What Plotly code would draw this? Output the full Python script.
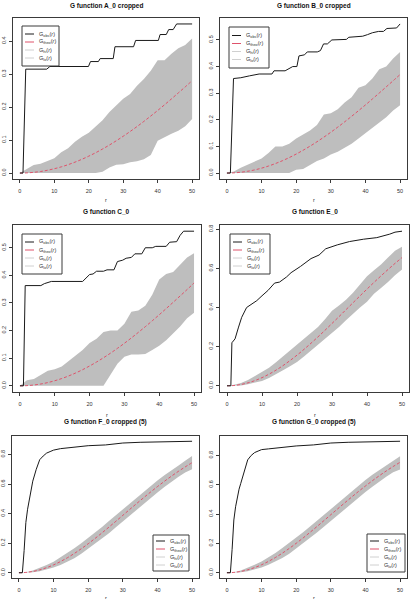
import plotly.graph_objects as go

W, H = 414, 599

# shared r grid for theoretical curve and simulation envelope
r_grid = [0, 2, 4, 6, 8, 10, 12, 14, 16, 18, 20, 22, 24, 26, 28, 30, 32, 34, 36, 38, 40, 42, 44, 46, 48, 50]

# ---------------- Panel A ----------------
A_obs_r = [0, 0.9, 1.7, 7.8, 8.7, 19.9, 20.5, 22.8, 23.3, 27.1, 27.6, 33.0, 33.6, 40.2, 40.7, 42.5, 43.2, 44.5, 45.5, 50]
A_obs = [0, 0, 0.315, 0.315, 0.323, 0.323, 0.338, 0.338, 0.347, 0.347, 0.383, 0.383, 0.402, 0.402, 0.42, 0.42, 0.435, 0.435, 0.452, 0.452]
A_theo = [0, 0.0005, 0.0021, 0.0047, 0.0084, 0.0131, 0.0187, 0.0254, 0.0331, 0.0417, 0.0512, 0.0616, 0.0729, 0.085, 0.0979,
          0.1116, 0.1259, 0.1409, 0.1566, 0.1729, 0.1897, 0.207, 0.2248, 0.243, 0.2612, 0.28]
A_hi = [0, 0.012, 0.024, 0.028, 0.036, 0.045, 0.063, 0.075, 0.095, 0.11, 0.122, 0.14, 0.16, 0.185, 0.205, 0.225, 0.24, 0.265,
        0.285, 0.31, 0.342, 0.342, 0.362, 0.378, 0.388, 0.408]
A_lo = [0, 0, 0, 0, 0, 0, 0, 0, 0, 0, 0, 0, 0.004, 0.017, 0.025, 0.027, 0.033, 0.036, 0.042, 0.055, 0.098, 0.109, 0.119, 0.128,
        0.142, 0.164]

# ---------------- Panel B ----------------
B_obs_r = [0, 1.0, 1.9, 4, 6.5, 9.3, 13.0, 13.6, 16.8, 18, 19, 20.2, 20.8, 22.4, 23.2, 26.1, 27, 27.9, 29.0, 30.3, 34.5, 35.2,
           39.2, 40.6, 42, 43.8, 45.2, 46.2, 49, 50]
B_obs = [0, 0, 0.355, 0.358, 0.365, 0.372, 0.372, 0.384, 0.384, 0.394, 0.40, 0.40, 0.44, 0.444, 0.455, 0.455, 0.46, 0.485, 0.485,
         0.50, 0.502, 0.51, 0.514, 0.52, 0.527, 0.532, 0.532, 0.543, 0.545, 0.56]
B_theo = [0, 0.0007, 0.003, 0.0066, 0.0118, 0.0183, 0.0263, 0.0356, 0.0462, 0.0581, 0.0713, 0.0856, 0.101, 0.1174, 0.1349,
          0.1532, 0.1724, 0.1924, 0.213, 0.2342, 0.2559, 0.2782, 0.3008, 0.3237, 0.3467, 0.37]
B_hi = [0, 0.006, 0.02, 0.032, 0.042, 0.055, 0.075, 0.1, 0.1, 0.11, 0.13, 0.145, 0.16, 0.18, 0.22, 0.225, 0.24, 0.265, 0.285,
        0.32, 0.33, 0.355, 0.39, 0.4, 0.43, 0.455]
B_lo = [0, 0, 0, 0, 0, 0, 0, 0, 0, 0, 0.012, 0.015, 0.03, 0.045, 0.055, 0.07, 0.08, 0.095, 0.11, 0.13, 0.15, 0.17, 0.19, 0.21,
        0.235, 0.255]

# ---------------- Panel C ----------------
C_obs_r = [0, 1.0, 1.5, 6, 7, 9, 18, 19, 20, 21, 22, 24, 25, 27, 28, 29.5, 30.5, 32, 33, 35, 36, 38, 39, 42, 43, 45, 46, 47, 50]
C_obs = [0, 0, 0.363, 0.363, 0.37, 0.378, 0.378, 0.39, 0.403, 0.405, 0.415, 0.415, 0.42, 0.42, 0.45, 0.455, 0.462, 0.465, 0.478,
         0.478, 0.5, 0.5, 0.505, 0.505, 0.52, 0.522, 0.545, 0.56, 0.56]
C_theo = [0, 0.0007, 0.003, 0.0066, 0.0118, 0.0184, 0.0264, 0.0358, 0.0465, 0.0585, 0.0718, 0.0862, 0.1017, 0.1182, 0.1357,
          0.1541, 0.1734, 0.1935, 0.2142, 0.2355, 0.2573, 0.2797, 0.3024, 0.3254, 0.3486, 0.3725]
C_hi = [0, 0.02, 0.025, 0.04, 0.055, 0.06, 0.07, 0.09, 0.11, 0.13, 0.155, 0.17, 0.195, 0.2, 0.2, 0.225, 0.268, 0.273, 0.29,
        0.33, 0.385, 0.405, 0.412, 0.44, 0.465, 0.48]
C_lo = [0, 0, 0, 0, 0, 0, 0, 0, 0, 0, 0, 0, 0, 0.04, 0.08, 0.105, 0.113, 0.113, 0.115, 0.13, 0.145, 0.165, 0.19, 0.215, 0.245, 0.265]

# ---------------- Panel E ----------------
E_obs_r = [0, 1.1, 1.4, 2.3, 3.3, 4.2, 5.6, 7, 8.5, 10, 11.7, 13.6, 15, 17, 18.3, 21, 24, 26.3, 28.2, 31.5, 35, 39, 42.8, 46.5,
           48, 50]
E_obs = [0, 0, 0.22, 0.24, 0.3, 0.35, 0.40, 0.418, 0.435, 0.46, 0.487, 0.525, 0.53, 0.556, 0.578, 0.61, 0.65, 0.668, 0.70, 0.72,
         0.737, 0.749, 0.757, 0.775, 0.785, 0.79]
E_theo = [0, 0.0017, 0.0068, 0.0152, 0.0269, 0.0417, 0.0595, 0.0801, 0.1033, 0.1289, 0.1567, 0.1863, 0.2176, 0.2502, 0.2839,
          0.3185, 0.3535, 0.3889, 0.4243, 0.4594, 0.4942, 0.5283, 0.5616, 0.594, 0.6253, 0.6553]
E_hi = [0, 0.005, 0.015, 0.03, 0.05, 0.072, 0.092, 0.12, 0.15, 0.18, 0.21, 0.24, 0.27, 0.3, 0.34, 0.384, 0.41, 0.44, 0.475,
        0.515, 0.56, 0.59, 0.62, 0.655, 0.69, 0.711]
E_lo = [0, 0, 0.002, 0.008, 0.015, 0.025, 0.04, 0.058, 0.08, 0.1, 0.122, 0.15, 0.18, 0.21, 0.24, 0.272, 0.3, 0.335, 0.37,
        0.4, 0.43, 0.47, 0.5, 0.53, 0.565, 0.594]

# ---------------- Panel F ----------------
F_obs_r = [0, 1, 1.5, 2, 2.5, 3, 3.5, 4, 5, 6, 7, 8, 9, 10, 12, 14, 16, 20, 25, 30, 35, 40, 45, 50]
F_obs = [0, 0, 0.15, 0.34, 0.43, 0.5, 0.56, 0.62, 0.7, 0.765, 0.79, 0.81, 0.82, 0.83, 0.84, 0.845, 0.85, 0.86, 0.865, 0.878,
         0.883, 0.886, 0.888, 0.89]
F_theo = [0, 0.0022, 0.0087, 0.0195, 0.0344, 0.0532, 0.0757, 0.1016, 0.1306, 0.1623, 0.1964, 0.2325, 0.2701, 0.309, 0.3485,
          0.3885, 0.4287, 0.4684, 0.5076, 0.5458, 0.583, 0.6187, 0.653, 0.6855, 0.7162, 0.745]
F_hi = [0, 0.004, 0.016, 0.032, 0.052, 0.074, 0.103, 0.133, 0.165, 0.2, 0.235, 0.272, 0.31, 0.35, 0.39, 0.43, 0.47, 0.51,
        0.55, 0.59, 0.625, 0.66, 0.695, 0.725, 0.758, 0.79]
F_lo = [0, 0, 0.004, 0.01, 0.02, 0.035, 0.053, 0.073, 0.098, 0.128, 0.162, 0.197, 0.232, 0.268, 0.308, 0.348, 0.388, 0.428,
        0.467, 0.505, 0.543, 0.58, 0.615, 0.648, 0.678, 0.7]

# ---------------- Panel G ----------------
G_obs_r = [0, 1, 1.5, 2, 2.5, 3, 3.5, 4, 5, 6, 7, 8, 9, 10, 12, 14, 16, 20, 25, 30, 35, 40, 45, 50]
G_obs = [0, 0, 0.16, 0.36, 0.45, 0.52, 0.57, 0.61, 0.70, 0.77, 0.80, 0.82, 0.83, 0.84, 0.845, 0.85, 0.855, 0.865, 0.872, 0.885,
         0.89, 0.893, 0.895, 0.897]
G_theo = [0, 0.0022, 0.0089, 0.02, 0.0352, 0.0545, 0.0775, 0.104, 0.1336, 0.1659, 0.2007, 0.2374, 0.2757, 0.3152, 0.3553,
          0.3959, 0.4364, 0.4766, 0.516, 0.5545, 0.5918, 0.6276, 0.6618, 0.6942, 0.7248, 0.7534]
G_hi = [0, 0.004, 0.016, 0.033, 0.054, 0.077, 0.105, 0.135, 0.168, 0.203, 0.24, 0.277, 0.315, 0.355, 0.395, 0.435, 0.475,
        0.515, 0.555, 0.595, 0.632, 0.668, 0.7, 0.732, 0.765, 0.795]
G_lo = [0, 0, 0.004, 0.01, 0.021, 0.036, 0.054, 0.075, 0.1, 0.13, 0.165, 0.2, 0.236, 0.274, 0.314, 0.354, 0.394, 0.434, 0.473,
        0.512, 0.55, 0.587, 0.622, 0.655, 0.685, 0.705]

titles = ["G function A_0 cropped", "G function B_0 cropped", "G function C_0",
          "G function E_0", "G function F_0 cropped (5)", "G function G_0 cropped (5)"]
x_ticks = [0, 10, 20, 30, 40, 50]
legend_labels = ["G<sub>obs</sub>(<i>r</i>)", "G<sub>theo</sub>(<i>r</i>)",
                 "G<sub>hi</sub>(<i>r</i>)", "G<sub>lo</sub>(<i>r</i>)"]

panels = [
    dict(obs_r=A_obs_r, obs=A_obs, theo=A_theo, hi=A_hi, lo=A_lo, dtick=0.1,
         box=(13, 18, 199, 179), leg=(22, 26, 59, 66), title_y=6, rlab_y=200),
    dict(obs_r=B_obs_r, obs=B_obs, theo=B_theo, hi=B_hi, lo=B_lo, dtick=0.1,
         box=(220, 18, 407, 179), leg=(229, 27, 269, 68), title_y=6, rlab_y=200),
    dict(obs_r=C_obs_r, obs=C_obs, theo=C_theo, hi=C_hi, lo=C_lo, dtick=0.1,
         box=(13, 225, 201, 392), leg=(22, 234, 62, 274), title_y=212, rlab_y=415),
    dict(obs_r=E_obs_r, obs=E_obs, theo=E_theo, hi=E_hi, lo=E_lo, dtick=0.2,
         box=(220, 225, 409, 392), leg=(230, 234, 270, 274), title_y=212, rlab_y=415),
    dict(obs_r=F_obs_r, obs=F_obs, theo=F_theo, hi=F_hi, lo=F_lo, dtick=0.2,
         box=(12, 436, 199, 578), leg=(153, 535, 189, 571), title_y=422, rlab_y=598),
    dict(obs_r=G_obs_r, obs=G_obs, theo=G_theo, hi=G_hi, lo=G_lo, dtick=0.2,
         box=(220, 436, 407, 578), leg=(367, 534, 405, 572), title_y=422, rlab_y=598),
]

FONT = "Liberation Sans, Arial, sans-serif"
AXC = "#3a3a3a"
SHADE = "#BEBEBE"
RED = "#DF536B"
OBS = "#1a1a1a"
LEGGREY = "#d0d0d0"


def px(x):
    return x / W


def py(y):
    return 1 - y / H


fig = go.Figure()
shapes = []
annotations = []

for i, p in enumerate(panels):
    n = "" if i == 0 else str(i + 1)
    xa, ya = "x" + n, "y" + n
    x0, y0, x1, y1 = p["box"]

    # envelope shading
    fig.add_trace(go.Scatter(x=r_grid, y=p["lo"], mode="lines", line=dict(width=0, color=SHADE),
                             xaxis=xa, yaxis=ya, showlegend=False, hoverinfo="skip"))
    fig.add_trace(go.Scatter(x=r_grid, y=p["hi"], mode="lines", line=dict(width=0, color=SHADE),
                             fill="tonexty", fillcolor=SHADE,
                             xaxis=xa, yaxis=ya, showlegend=False, hoverinfo="skip"))
    # theoretical
    fig.add_trace(go.Scatter(x=r_grid, y=p["theo"], mode="lines", line=dict(width=1, color=RED, dash="3px,2px"),
                             line_shape="spline", xaxis=xa, yaxis=ya, showlegend=False))
    # observed
    fig.add_trace(go.Scatter(x=p["obs_r"], y=p["obs"], mode="lines", line=dict(width=1, color=OBS),
                             xaxis=xa, yaxis=ya, showlegend=False))

    ymax = max(max(p["obs"]), max(p["hi"]))
    ymin = min(min(p["obs"]), min(p["lo"]))
    span = ymax - ymin

    common = dict(showline=True, mirror=True, linecolor=AXC, linewidth=1, ticks="outside", ticklen=3,
                  tickcolor=AXC, tickwidth=1, showgrid=False, zeroline=False,
                  tickfont=dict(size=5.5, color="#333", family=FONT))
    fig.layout["xaxis" + n] = dict(domain=[px(x0), px(x1)], anchor=ya, range=[-2, 52],
                                   tickvals=x_ticks, ticklabelstandoff=3, **common)
    fig.layout["yaxis" + n] = dict(domain=[py(y1), py(y0)], anchor=xa,
                                   range=[ymin - 0.04 * span, ymax + 0.04 * span],
                                   dtick=p["dtick"], tick0=0, tickformat=".1f", tickangle=-90,
                                   ticklabelstandoff=1, **common)

    cx = (x0 + x1) / 2
    annotations.append(dict(text="<b>" + titles[i] + "</b>", x=px(cx), y=py(p["title_y"]), xref="paper",
                            yref="paper", showarrow=False, xanchor="center", yanchor="middle",
                            font=dict(size=6.5, color="#111", family=FONT)))
    annotations.append(dict(text="r", x=px(cx), y=py(p["rlab_y"]), xref="paper", yref="paper",
                            showarrow=False, xanchor="center", yanchor="middle",
                            font=dict(size=5.5, color="#333", family=FONT)))

    # legend box
    lx0, ly0, lx1, ly1 = p["leg"]
    shapes.append(dict(type="rect", xref="paper", yref="paper", x0=px(lx0), x1=px(lx1), y0=py(ly1), y1=py(ly0),
                       line=dict(color=AXC, width=1), fillcolor="white", layer="above"))
    first = ly0 + (ly1 - ly0 - 24) / 2
    styles = [dict(color=OBS, width=1), dict(color=RED, width=1, dash="dash"),
              dict(color=LEGGREY, width=1), dict(color=LEGGREY, width=1)]
    for k in range(4):
        yy = first + 8 * k
        shapes.append(dict(type="line", xref="paper", yref="paper", x0=px(lx0 + 3), x1=px(lx0 + 12),
                           y0=py(yy), y1=py(yy), line=styles[k], layer="above"))
        annotations.append(dict(text=legend_labels[k], x=px(lx0 + 15), y=py(yy), xref="paper", yref="paper",
                                showarrow=False, xanchor="left", yanchor="middle",
                                font=dict(size=5.5, color="#333", family=FONT)))

fig.update_layout(width=W, height=H, margin=dict(l=0, r=0, t=0, b=0), paper_bgcolor="white",
                  plot_bgcolor="white", showlegend=False, shapes=shapes, annotations=annotations,
                  font=dict(family=FONT))

fig.write_html("out.html")
